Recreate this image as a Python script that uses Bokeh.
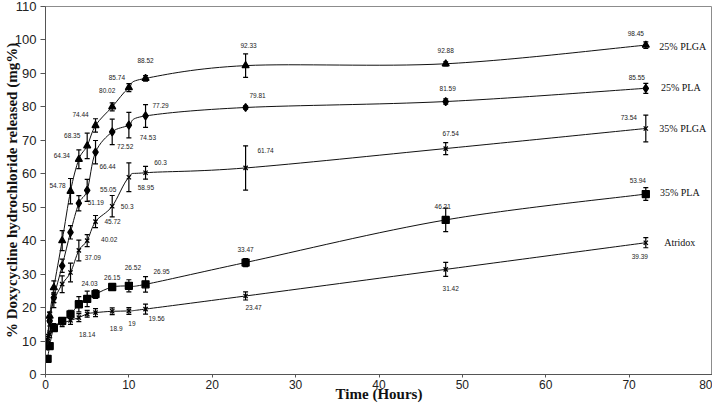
import numpy as np
from bokeh.plotting import figure
from bokeh.models import Range1d, ColumnDataSource, Whisker, TeeHead, FixedTicker
from bokeh.core.properties import value
from bokeh.embed import file_html
from bokeh.resources import INLINE

# ---------------- data ----------------
hours = [0.25, 0.5, 1, 2, 3, 4, 5, 6, 8, 10, 12, 24, 48, 72]

plga25 = [9.5, 17.5, 26.0, 40.0, 54.78, 64.34, 68.35, 74.44, 80.02, 85.74, 88.52, 92.33, 92.88, 98.45]
plga25_err = [1.0, 1.2, 2.0, 3.0, 3.8, 2.8, 3.8, 2.0, 1.2, 1.2, 0.8, 3.5, 0.6, 1.0]

pla25 = [8.5, 16.0, 23.0, 32.5, 42.5, 51.19, 55.05, 66.44, 72.52, 74.53, 77.29, 79.81, 81.59, 85.55]
pla25_err = [1.0, 1.5, 1.5, 2.0, 2.0, 2.3, 3.3, 3.5, 3.8, 3.8, 3.4, 0.5, 0.8, 1.5]

plga35 = [11.0, 17.0, 22.0, 27.0, 30.5, 37.09, 40.02, 45.72, 50.3, 58.95, 60.3, 61.74, 67.54, 73.54]
plga35_err = [1.0, 1.5, 2.0, 2.5, 2.8, 3.1, 1.8, 1.8, 3.2, 4.3, 1.9, 6.6, 1.8, 4.0]

pla35 = [4.7, 8.5, 13.9, 16.0, 18.0, 21.0, 22.6, 24.03, 26.15, 26.52, 26.95, 33.47, 46.21, 53.94]
pla35_err = [0.5, 1.0, 0.8, 1.0, 1.2, 2.3, 2.3, 1.3, 1.0, 1.8, 2.3, 1.2, 3.5, 1.9]

atridox = [8.5, 12.0, 14.2, 15.3, 16.2, 17.0, 18.14, 18.5, 18.9, 19.0, 19.56, 23.47, 31.42, 39.39]
atridox_err = [0.8, 1.0, 1.0, 1.0, 1.2, 1.2, 1.0, 1.2, 1.0, 1.0, 1.5, 1.2, 2.1, 1.5]

series_names = ["25% PLGA", "25% PLA", "35% PLGA", "35% PLA", "Atridox"]

x_ticks = [0, 10, 20, 30, 40, 50, 60, 70, 80]
y_ticks = [0, 10, 20, 30, 40, 50, 60, 70, 80, 90, 100, 110]

x_title = "Time (Hours)"
y_title = "% Doxycycline hydrochloride released (mg%)"

# which points carry a value label, and where (pixel offsets from the point)
plga25_lab = [4, 5, 6, 7, 8, 9, 10, 11, 12, 13]
plga25_off = [(-13, -6), (-17, -4), (-15, -10), (-15, -11), (-5, -16), (-12, -10), (0, -18), (3, -20), (0, -13), (-10, -12)]
pla25_lab = [5, 6, 7, 8, 9, 10, 11, 12, 13]
pla25_off = [(17, -1), (21, -1), (12, 14), (13, 15), (19, 12), (15, -10), (12, -12), (2, -13), (-9, -11)]
plga35_lab = [5, 6, 7, 8, 9, 10, 11, 12, 13]
plga35_off = [(14, 7), (22, -1), (17, 0), (15, 0), (17, 10), (15, -10), (20, -17), (5, -15), (-17, -11)]
pla35_lab = [7, 8, 9, 10, 11, 12, 13]
pla35_off = [(-6, -11), (0, -10), (4, -18), (16, -13), (0, -13), (-3, -13), (-8, -14)]
atridox_lab = [6, 8, 9, 10, 11, 12, 13]
atridox_off = [(0, 21), (4, 17), (3, 13), (11, 9), (8, 12), (5, 19), (-6, 14)]

name_off = [(37, 1), (35, -1), (37, 0), (34, -2), (34, 0)]

# ---------------- figure ----------------
p = figure(width=712, height=404, output_backend="svg", toolbar_location=None,
           x_range=Range1d(0, 80), y_range=Range1d(0, 110),
           min_border_left=38, min_border_right=0, min_border_top=6, min_border_bottom=30)
p.background_fill_color = "white"
p.border_fill_color = "white"
p.outline_line_color = "#8c8c8c"
p.outline_line_width = 1
p.xgrid.visible = False
p.ygrid.visible = False

for ax, ticks in ((p.xaxis, x_ticks), (p.yaxis, y_ticks)):
    ax.ticker = FixedTicker(ticks=ticks)
    ax.axis_line_color = "#555555"
    ax.major_tick_line_color = "#555555"
    ax.minor_tick_line_color = None
    ax.major_tick_in = 0
    ax.major_label_text_font = "Liberation Sans"
    ax.major_label_text_color = "#222222"
    ax.axis_label_text_font = "Liberation Serif"
    ax.axis_label_text_font_style = "bold"
    ax.axis_label_text_color = "#111111"

p.xaxis.major_tick_out = 3
p.xaxis.major_label_text_font_size = "12px"
p.xaxis.major_label_standoff = 2
p.xaxis.axis_label = x_title
p.xaxis.axis_label_text_font_size = "15px"
p.xaxis.axis_label_standoff = -6

p.yaxis.major_tick_out = 5
p.yaxis.major_label_text_font_size = "13px"
p.yaxis.major_label_standoff = 4
p.yaxis.axis_label = y_title
p.yaxis.axis_label_text_font_size = "15px"
p.yaxis.axis_label_standoff = -8

FONT = value("Liberation Sans")


def smooth(xs, ys):
    x = np.asarray(xs, float)
    y = np.asarray(ys, float)
    xp = np.concatenate([[x[0]], x, [x[-1]]])
    yp = np.concatenate([[y[0]], y, [y[-1]]])
    n = len(x)
    x0, y0 = x[:-1], y[:-1]
    x1, y1 = x[1:], y[1:]
    cx0 = x0 + (xp[2:n + 1] - xp[0:n - 1]) / 6.0
    cy0 = y0 + (yp[2:n + 1] - yp[0:n - 1]) / 6.0
    cx1 = x1 - (xp[3:n + 2] - xp[1:n]) / 6.0
    cy1 = y1 - (yp[3:n + 2] - yp[1:n]) / 6.0
    return dict(x0=x0, y0=y0, x1=x1, y1=y1, cx0=cx0, cy0=cy0, cx1=cx1, cy1=cy1)


series = [
    (plga25, plga25_err, "triangle", 7, plga25_lab, plga25_off),
    (pla25, pla25_err, "diamond", 8, pla25_lab, pla25_off),
    (plga35, plga35_err, "x", 6, plga35_lab, plga35_off),
    (pla35, pla35_err, "square", 7, pla35_lab, pla35_off),
    (atridox, atridox_err, "x", 6, atridox_lab, atridox_off),
]

for (vals, errs, marker, msize, lab_idx, lab_off), name, noff in zip(series, series_names, name_off):
    src = ColumnDataSource(smooth(hours, vals))
    p.bezier(x0="x0", y0="y0", x1="x1", y1="y1", cx0="cx0", cy0="cy0", cx1="cx1", cy1="cy1",
             source=src, line_color="#111111", line_width=1)
    esrc = ColumnDataSource(dict(x=hours,
                                 upper=[v + e for v, e in zip(vals, errs)],
                                 lower=[v - e for v, e in zip(vals, errs)]))
    p.add_layout(Whisker(source=esrc, base="x", upper="upper", lower="lower", dimension="height",
                         line_color="black", line_width=1.2,
                         upper_head=TeeHead(size=5, line_color="black", line_width=1.2),
                         lower_head=TeeHead(size=5, line_color="black", line_width=1.2)))
    p.scatter(hours, vals, marker=marker, size=msize, fill_color="black", line_color="black",
              line_width=1.3)
    lsrc = ColumnDataSource(dict(
        x=[hours[i] for i in lab_idx], y=[vals[i] for i in lab_idx],
        t=[f"{vals[i]:g}" for i in lab_idx],
        dx=[o[0] for o in lab_off], dy=[o[1] for o in lab_off]))
    p.text(x="x", y="y", text="t", x_offset="dx", y_offset="dy", source=lsrc,
           text_font=FONT, text_font_size="6.5px", text_color="#1a1a1a",
           text_align="center", text_baseline="middle")
    p.text(x=[hours[-1]], y=[vals[-1]], text=[name], x_offset=noff[0], y_offset=noff[1],
           text_font=value("Liberation Serif"), text_font_size="10px", text_color="#111111",
           text_align="center", text_baseline="middle")

open("out.html", "w").write(file_html(p, INLINE))
